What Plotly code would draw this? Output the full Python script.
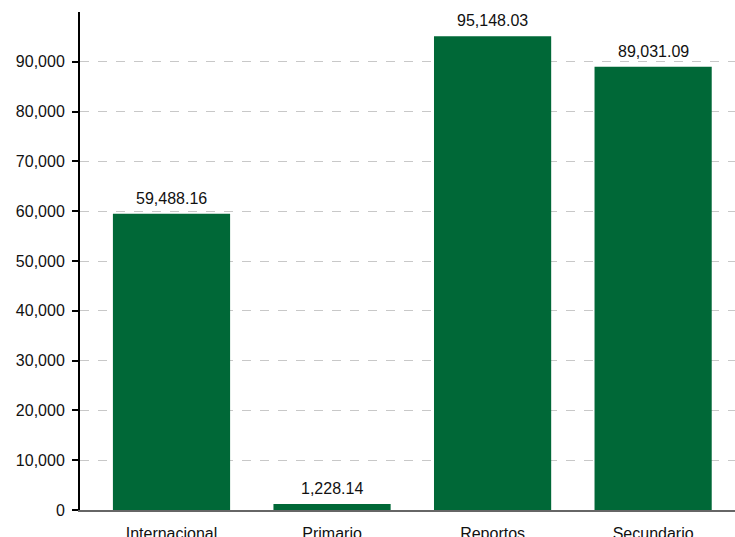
import plotly.graph_objects as go

categories = ["Internacional", "Primario", "Reportos", "Secundario"]
values = [59488.16, 1228.14, 95148.03, 89031.09]
tick_vals = [0, 10000, 20000, 30000, 40000, 50000, 60000, 70000, 80000, 90000]
tick_text = ["0", "10,000", "20,000", "30,000", "40,000", "50,000", "60,000", "70,000", "80,000", "90,000"]
labels = ["{:,.2f}".format(v) for v in values]

FONT = "Liberation Sans, Arial, sans-serif"

fig = go.Figure(go.Bar(
    x=categories, y=values,
    marker=dict(color="#006837", line=dict(width=0)),
    width=0.73,
    hoverinfo="skip",
))

for c, v, t in zip(categories, values, labels):
    fig.add_annotation(x=c, y=v, text=t, showarrow=False, yanchor="bottom",
                       yshift=5, font=dict(family=FONT, size=16, color="#111"))

fig.update_layout(
    width=735, height=537,
    margin=dict(l=80, r=0, t=12, b=27),
    plot_bgcolor="white", paper_bgcolor="white",
    showlegend=False,
    font=dict(family=FONT, size=16, color="#111"),
)
fig.update_xaxes(
    range=[-0.57, 3.51],
    showline=True, linecolor="#666666", linewidth=2,
    ticks="", showgrid=False,
    automargin=False,
    ticklabelstandoff=8,
    tickfont=dict(size=16),
)
fig.update_yaxes(
    range=[0, 100000],
    tickvals=tick_vals, ticktext=tick_text,
    showline=True, linecolor="black", linewidth=2,
    ticks="outside", ticklen=6, tickwidth=2, tickcolor="black",
    showgrid=True, gridcolor="#c8c8c8", griddash="dash", gridwidth=1,
    zeroline=False,
    automargin=False,
    ticklabelstandoff=4,
    tickfont=dict(size=16),
)

fig.write_html(
    "out.html",
    config={"displayModeBar": False},
    post_script="document.body.style.margin='0';document.documentElement.style.overflow='hidden';document.body.style.overflow='hidden';",
)
